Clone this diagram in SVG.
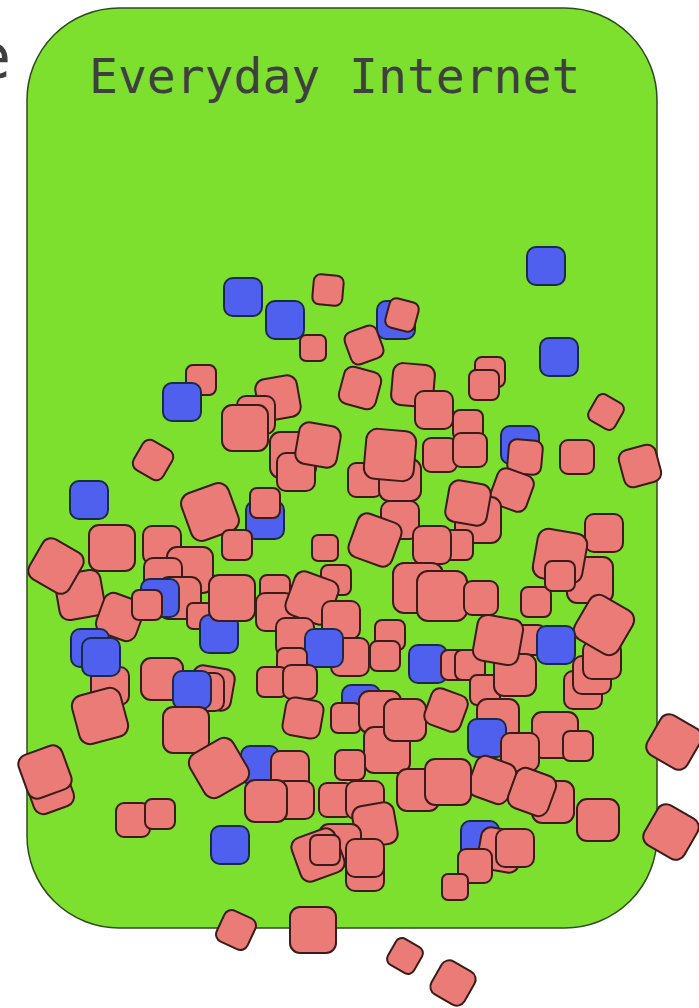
<svg xmlns="http://www.w3.org/2000/svg" xmlns:xlink="http://www.w3.org/1999/xlink" width="699" height="1008" viewBox="0 0 699 1008">
<style>
.p{fill:#ea7b76;stroke:#3a1c1a;stroke-width:2}
.b{fill:#5060ee;stroke:#1c2a4a;stroke-width:2}
.t{font-family:"DejaVu Sans Mono","Liberation Mono",monospace;font-size:48px;fill:#3f3f3f}
</style>
<defs>
<rect id="p26" class="p" x="-13" y="-13" width="26" height="26" rx="6"/>
<rect id="p30" class="p" x="-15" y="-15" width="30" height="30" rx="7"/>
<rect id="p34" class="p" x="-17" y="-17" width="34" height="34" rx="8"/>
<rect id="p38" class="p" x="-19" y="-19" width="38" height="38" rx="9"/>
<rect id="p42" class="p" x="-21" y="-21" width="42" height="42" rx="10"/>
<rect id="p46" class="p" x="-23" y="-23" width="46" height="46" rx="10"/>
<rect id="p50" class="p" x="-25" y="-25" width="50" height="50" rx="11"/>
<rect id="b38" class="b" x="-19" y="-19" width="38" height="38" rx="9"/>
</defs>
<text x="11" y="78" text-anchor="end" style="font-family:'DejaVu Sans',sans-serif;font-size:62px;fill:#3f3f3f">e</text>
<rect x="27" y="8" width="630" height="920" rx="92" fill="#7ee02e" stroke="#2f4a1f" stroke-width="1.5"/>
<text class="t" x="89" y="93">Everyday Internet</text>
<g id="shapes">
<use href="#b38" transform="translate(546,266)"/>
<use href="#b38" transform="translate(243,297)"/>
<use href="#b38" transform="translate(285,320)"/>
<use href="#p30" transform="translate(328,290) rotate(5)"/>
<use href="#p26" transform="translate(313,348)"/>
<use href="#b38" transform="translate(396,320)"/>
<use href="#p30" transform="translate(402,315) rotate(15)"/>
<use href="#p34" transform="translate(364,345) rotate(-20)"/>
<use href="#b38" transform="translate(559,357)"/>
<use href="#p30" transform="translate(201,380)"/>
<use href="#b38" transform="translate(182,402)"/>
<use href="#p38" transform="translate(360,388) rotate(15)"/>
<use href="#p30" transform="translate(490,372)"/>
<use href="#p30" transform="translate(484,385)"/>
<use href="#p42" transform="translate(413,385) rotate(5)"/>
<use href="#p30" transform="translate(606,412) rotate(30)"/>
<use href="#p42" transform="translate(278,398) rotate(-10)"/>
<use href="#p38" transform="translate(256,415)"/>
<use href="#p46" transform="translate(245,428)"/>
<use href="#p38" transform="translate(434,410)"/>
<use href="#p30" transform="translate(468,425)"/>
<use href="#p46" transform="translate(293,455)"/>
<use href="#p38" transform="translate(296,472)"/>
<use href="#p42" transform="translate(318,445) rotate(10)"/>
<use href="#p34" transform="translate(153,460) rotate(30)"/>
<use href="#b38" transform="translate(520,445)"/>
<use href="#p34" transform="translate(525,457) rotate(5)"/>
<use href="#p34" transform="translate(577,457)"/>
<use href="#p38" transform="translate(640,466) rotate(-15)"/>
<use href="#p34" transform="translate(365,480)"/>
<use href="#p34" transform="translate(440,455)"/>
<use href="#p34" transform="translate(470,450)"/>
<use href="#p42" transform="translate(400,480)"/>
<use href="#p50" transform="translate(390,455) rotate(5)"/>
<use href="#p38" transform="translate(512,490) rotate(20)"/>
<use href="#b38" transform="translate(89,500)"/>
<use href="#b38" transform="translate(265,520)"/>
<use href="#p30" transform="translate(265,503)"/>
<use href="#p50" transform="translate(210,512) rotate(-20)"/>
<use href="#p38" transform="translate(400,520)"/>
<use href="#p46" transform="translate(375,540) rotate(20)"/>
<use href="#p46" transform="translate(478,520)"/>
<use href="#p42" transform="translate(468,503) rotate(10)"/>
<use href="#p30" transform="translate(458,545)"/>
<use href="#p38" transform="translate(432,545)"/>
<use href="#p26" transform="translate(325,548)"/>
<use href="#p30" transform="translate(237,545)"/>
<use href="#p46" transform="translate(80,595) rotate(-10)"/>
<use href="#p46" transform="translate(56,566) rotate(30)"/>
<use href="#p46" transform="translate(112,548)"/>
<use href="#p38" transform="translate(162,545)"/>
<use href="#p46" transform="translate(190,570)"/>
<use href="#p38" transform="translate(163,577)"/>
<use href="#p42" transform="translate(180,598)"/>
<use href="#b38" transform="translate(160,598)"/>
<use href="#p42" transform="translate(120,617) rotate(20)"/>
<use href="#p30" transform="translate(147,605)"/>
<use href="#p26" transform="translate(200,616)"/>
<use href="#b38" transform="translate(219,634)"/>
<use href="#p46" transform="translate(232,598)"/>
<use href="#p30" transform="translate(275,590)"/>
<use href="#p38" transform="translate(275,612)"/>
<use href="#p30" transform="translate(336,580)"/>
<use href="#p46" transform="translate(312,598) rotate(20)"/>
<use href="#p38" transform="translate(295,637)"/>
<use href="#p38" transform="translate(341,620)"/>
<use href="#p30" transform="translate(390,635)"/>
<use href="#p30" transform="translate(385,656)"/>
<use href="#p38" transform="translate(350,657)"/>
<use href="#b38" transform="translate(324,648)"/>
<use href="#p50" transform="translate(418,588)"/>
<use href="#p50" transform="translate(442,596)"/>
<use href="#p34" transform="translate(481,598)"/>
<use href="#p30" transform="translate(536,602)"/>
<use href="#p38" transform="translate(604,533)"/>
<use href="#p46" transform="translate(590,580)"/>
<use href="#p50" transform="translate(560,556) rotate(10)"/>
<use href="#p30" transform="translate(560,576)"/>
<use href="#p38" transform="translate(583,690)"/>
<use href="#p38" transform="translate(592,675)"/>
<use href="#p38" transform="translate(602,660)"/>
<use href="#p50" transform="translate(604,625) rotate(30)"/>
<use href="#p30" transform="translate(530,640)"/>
<use href="#b38" transform="translate(556,645)"/>
<use href="#b38" transform="translate(90,648)"/>
<use href="#p38" transform="translate(110,686)"/>
<use href="#b38" transform="translate(101,657)"/>
<use href="#p50" transform="translate(100,716) rotate(-15)"/>
<use href="#p42" transform="translate(162,679)"/>
<use href="#p42" transform="translate(212,688) rotate(10)"/>
<use href="#p38" transform="translate(205,692)"/>
<use href="#b38" transform="translate(192,690)"/>
<use href="#p46" transform="translate(186,730)"/>
<use href="#p30" transform="translate(292,663)"/>
<use href="#p30" transform="translate(272,682)"/>
<use href="#p34" transform="translate(300,682)"/>
<use href="#p38" transform="translate(303,718) rotate(10)"/>
<use href="#b38" transform="translate(361,704)"/>
<use href="#p30" transform="translate(346,718)"/>
<use href="#p42" transform="translate(380,712)"/>
<use href="#p46" transform="translate(387,750)"/>
<use href="#p42" transform="translate(405,720)"/>
<use href="#b38" transform="translate(428,664)"/>
<use href="#p30" transform="translate(456,665)"/>
<use href="#p30" transform="translate(470,665)"/>
<use href="#p30" transform="translate(485,690)"/>
<use href="#p42" transform="translate(515,675)"/>
<use href="#p46" transform="translate(498,640) rotate(10)"/>
<use href="#p38" transform="translate(446,710) rotate(20)"/>
<use href="#p42" transform="translate(498,720)"/>
<use href="#b38" transform="translate(487,738)"/>
<use href="#p46" transform="translate(555,735)"/>
<use href="#p30" transform="translate(578,746)"/>
<use href="#p38" transform="translate(520,752)"/>
<use href="#p42" transform="translate(492,780) rotate(20)"/>
<use href="#p42" transform="translate(418,790)"/>
<use href="#p46" transform="translate(448,782)"/>
<use href="#p42" transform="translate(553,802)"/>
<use href="#p42" transform="translate(532,792) rotate(20)"/>
<use href="#p42" transform="translate(598,820)"/>
<use href="#p46" transform="translate(674,742) rotate(30)"/>
<use href="#p46" transform="translate(671,832) rotate(30)"/>
<use href="#p42" transform="translate(50,790) rotate(-20)"/>
<use href="#p46" transform="translate(45,772) rotate(-20)"/>
<use href="#p34" transform="translate(133,820)"/>
<use href="#p30" transform="translate(160,814)"/>
<use href="#b38" transform="translate(230,845)"/>
<use href="#b38" transform="translate(260,765)"/>
<use href="#p38" transform="translate(290,770)"/>
<use href="#p50" transform="translate(219,768) rotate(-30)"/>
<use href="#p38" transform="translate(295,800)"/>
<use href="#p42" transform="translate(266,801)"/>
<use href="#p30" transform="translate(350,765)"/>
<use href="#p34" transform="translate(336,800)"/>
<use href="#p38" transform="translate(365,800)"/>
<use href="#p42" transform="translate(375,825) rotate(-10)"/>
<use href="#p42" transform="translate(340,845)"/>
<use href="#p38" transform="translate(365,872)"/>
<use href="#p38" transform="translate(365,858)"/>
<use href="#p46" transform="translate(318,855) rotate(-20)"/>
<use href="#p30" transform="translate(325,850)"/>
<use href="#b38" transform="translate(480,840)"/>
<use href="#p42" transform="translate(500,850) rotate(10)"/>
<use href="#p34" transform="translate(475,866)"/>
<use href="#p26" transform="translate(455,887)"/>
<use href="#p38" transform="translate(515,848)"/>
<use href="#p34" transform="translate(236,930) rotate(25)"/>
<use href="#p46" transform="translate(313,930)"/>
<use href="#p30" transform="translate(405,956) rotate(30)"/>
<use href="#p38" transform="translate(453,983) rotate(30)"/>
</g>
</svg>
